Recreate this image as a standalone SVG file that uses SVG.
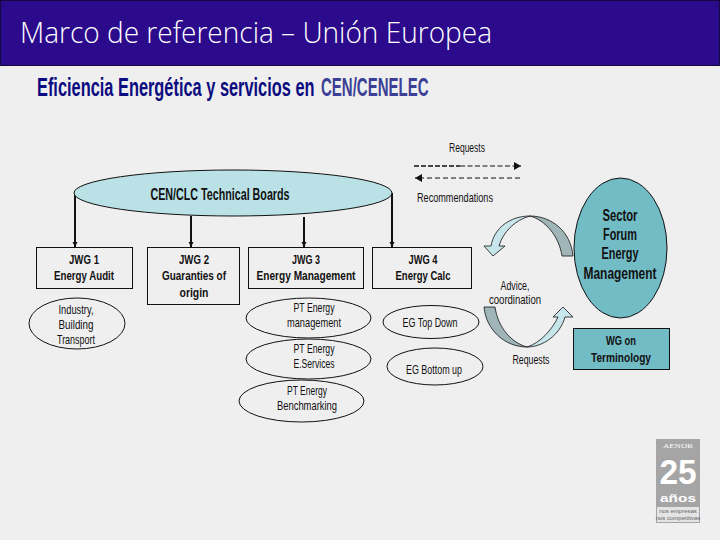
<svg xmlns="http://www.w3.org/2000/svg" width="720" height="540" viewBox="0 0 720 540">
<style>
text{font-family:"Liberation Sans","Noto Sans",sans-serif;text-anchor:middle;fill:#111}
.n{fill:#efefef;stroke:#111;stroke-width:1}
.t{font-size:13.500px;font-weight:700}
.s{font-size:13px}
.c{stroke:#111;stroke-width:2;fill:none;marker-end:url(#a)}
.teal{fill:#72bcc6;stroke:#111;stroke-width:1}
.dk{fill:#9fb5b8;stroke:#111;stroke-width:.8}
.lt{fill:#c6e6eb;stroke:#111;stroke-width:.8}
.l{font-size:16px;font-weight:700}
.w{fill:#fff;font-weight:700}
.g{fill:#666;font-size:6px}
</style>
<defs>
<marker id="a" markerUnits="userSpaceOnUse" markerWidth="6" markerHeight="6" refX="5" refY="3" orient="auto"><path d="M0 .5L5 3L0 5.500Z" fill="#111"/></marker>
<marker id="b" markerUnits="userSpaceOnUse" markerWidth="10" markerHeight="10" refX="7" refY="4" orient="auto"><path d="M0 0L7 4L0 8Z" fill="#111"/></marker>
</defs>
<rect width="720" height="540" fill="#efefef"/>
<rect x="0.500" y="0.500" width="719" height="65" fill="#2b0a8c" stroke="#14093c"/>
<text x="256" y="43" font-size="30" font-weight="300" textLength="472" lengthAdjust="spacingAndGlyphs" style="fill:#fff;font-family:'Open Sans','Noto Sans',sans-serif">Marco de referencia – Unión Europea</text>
<text transform="translate(37 96) scale(.655 1)" font-size="25" font-weight="700" style="text-anchor:start;fill:#0c0c80">Eficiencia Energética y servicios en</text>
<text transform="translate(321 96) scale(.6 1)" font-size="25" font-weight="700" style="text-anchor:start;fill:#3b3f95">CEN/CENELEC</text>

<g id="connectors">
<path class="c" d="M75 193V247"/>
<path class="c" d="M191 216V247"/>
<path class="c" d="M304 217V247"/>
<path class="c" d="M392 193V247"/>
<path d="M414 166H460" stroke="#111" stroke-width="1.600" stroke-dasharray="5 2" fill="none"/>
<path d="M460 166H521" stroke="#111" stroke-width="1" stroke-dasharray="5 2.500" fill="none" marker-end="url(#b)"/>
<path d="M520 178H415" stroke="#111" stroke-width="1" stroke-dasharray="5 3" fill="none" marker-end="url(#b)"/>
</g>

<g id="tb"><ellipse cx="233" cy="193" rx="159" ry="23" fill="#b9e1e6" stroke="#111"/><text x="220" y="200" font-size="16" font-weight="700" textLength="139" lengthAdjust="spacingAndGlyphs">CEN/CLC Technical Boards</text></g>

<g id="jwg1"><rect class="n" x="36.500" y="247.500" width="96" height="41"/><text class="t" x="84" y="264" textLength="30" lengthAdjust="spacingAndGlyphs">JWG 1</text><text class="t" x="84" y="280" textLength="60" lengthAdjust="spacingAndGlyphs">Energy Audit</text></g>
<g id="jwg2"><rect class="n" x="147.500" y="247.500" width="92" height="57"/><text class="t" x="194" y="264" textLength="30" lengthAdjust="spacingAndGlyphs">JWG 2</text><text class="t" x="194" y="280" textLength="64" lengthAdjust="spacingAndGlyphs">Guaranties of</text><text class="t" x="194" y="297" textLength="29" lengthAdjust="spacingAndGlyphs">origin</text></g>
<g id="jwg3"><rect class="n" x="248.500" y="247.500" width="115" height="41"/><text class="t" x="306" y="264" textLength="28" lengthAdjust="spacingAndGlyphs">JWG 3</text><text class="t" x="306" y="280" textLength="99" lengthAdjust="spacingAndGlyphs">Energy Management</text></g>
<g id="jwg4"><rect class="n" x="372.500" y="247.500" width="99" height="41"/><text class="t" x="423" y="264" textLength="29" lengthAdjust="spacingAndGlyphs">JWG 4</text><text class="t" x="423" y="280" textLength="55" lengthAdjust="spacingAndGlyphs">Energy Calc</text></g>

<g id="industry"><ellipse class="n" cx="77" cy="323.500" rx="48" ry="25.500"/><text class="s" x="76" y="314" textLength="35" lengthAdjust="spacingAndGlyphs">Industry,</text><text class="s" x="76" y="329" textLength="35" lengthAdjust="spacingAndGlyphs">Building</text><text class="s" x="76" y="344" textLength="38" lengthAdjust="spacingAndGlyphs">Transport</text></g>
<g id="pt1"><ellipse class="n" cx="308.500" cy="318" rx="62.500" ry="20"/><text class="s" x="314" y="312" textLength="41" lengthAdjust="spacingAndGlyphs">PT Energy</text><text class="s" x="314" y="327" textLength="54" lengthAdjust="spacingAndGlyphs">management</text></g>
<g id="pt2"><ellipse class="n" cx="308.500" cy="359" rx="62.500" ry="20"/><text class="s" x="314" y="353" textLength="41" lengthAdjust="spacingAndGlyphs">PT Energy</text><text class="s" x="314" y="368" textLength="41" lengthAdjust="spacingAndGlyphs">E.Services</text></g>
<g id="pt3"><ellipse class="n" cx="301.500" cy="401" rx="62.500" ry="21"/><text class="s" x="307" y="395" textLength="40" lengthAdjust="spacingAndGlyphs">PT Energy</text><text class="s" x="307" y="410" textLength="60" lengthAdjust="spacingAndGlyphs">Benchmarking</text></g>
<g id="eg1"><ellipse class="n" cx="431" cy="322" rx="48" ry="16.500"/><text class="s" x="430" y="327" textLength="55" lengthAdjust="spacingAndGlyphs">EG Top Down</text></g>
<g id="eg2"><ellipse class="n" cx="435" cy="366.500" rx="48" ry="18.500"/><text class="s" x="434" y="374" textLength="56" lengthAdjust="spacingAndGlyphs">EG Bottom up</text></g>

<g id="sector"><ellipse class="teal" cx="620.500" cy="248" rx="46.500" ry="70"/>
<text class="l" x="620" y="221" textLength="35" lengthAdjust="spacingAndGlyphs">Sector</text><text class="l" x="620" y="240" textLength="34" lengthAdjust="spacingAndGlyphs">Forum</text><text class="l" x="620" y="259" textLength="37" lengthAdjust="spacingAndGlyphs">Energy</text><text class="l" x="620" y="279" textLength="73" lengthAdjust="spacingAndGlyphs">Management</text></g>
<g id="wg"><rect class="teal" x="573.500" y="328.500" width="96" height="41"/><text class="t" x="621" y="345" textLength="30" lengthAdjust="spacingAndGlyphs">WG on</text><text class="t" x="621" y="362" textLength="60" lengthAdjust="spacingAndGlyphs">Terminology</text></g>

<g id="arrow-top">
<path class="dk" d="M573 256C571 232 552 216 530 216C545 220 559 236 562 256Z"/>
<path class="lt" d="M530 216C510 216 494 228 491 246L484 246L493 256L505 246L499 246C503 232 515 220 530 216Z"/>
</g>
<g id="arrow-bottom">
<path class="dk" d="M484 307C486 330 505 347 527 347C512 343 498 328 495 307Z"/>
<path class="lt" d="M527 347C543 347 560 335 565 317L573 317L563 307L553 317L558 317C552 330 540 343 527 347Z"/>
</g>

<g id="labels">
<text class="s" x="467" y="152" textLength="36" lengthAdjust="spacingAndGlyphs">Requests</text>
<text class="s" x="455" y="202" textLength="76" lengthAdjust="spacingAndGlyphs">Recommendations</text>
<text class="s" x="515" y="290" textLength="29" lengthAdjust="spacingAndGlyphs">Advice,</text>
<text class="s" x="515" y="304" textLength="52" lengthAdjust="spacingAndGlyphs">coordination</text>
<text class="s" x="531" y="364" textLength="37" lengthAdjust="spacingAndGlyphs">Requests</text>
</g>

<g id="logo">
<rect x="656" y="439" width="44" height="84" fill="#a5a5a5"/>
<rect x="657" y="507" width="42" height="15" fill="#e4e4e4"/>
<text x="678" y="448" font-size="7" textLength="30" lengthAdjust="spacingAndGlyphs" style="font-family:'Liberation Serif',serif;fill:#fff">AENOR</text>
<text class="w" transform="translate(678 484) scale(.93 1)" font-size="36">25</text>
<text class="w" x="678" y="502" font-size="11" textLength="36" lengthAdjust="spacingAndGlyphs">años</text>
<text class="g" x="678" y="513">nos empresas</text>
<text class="g" x="678" y="520">nos competitivas</text>
</g>
</svg>
